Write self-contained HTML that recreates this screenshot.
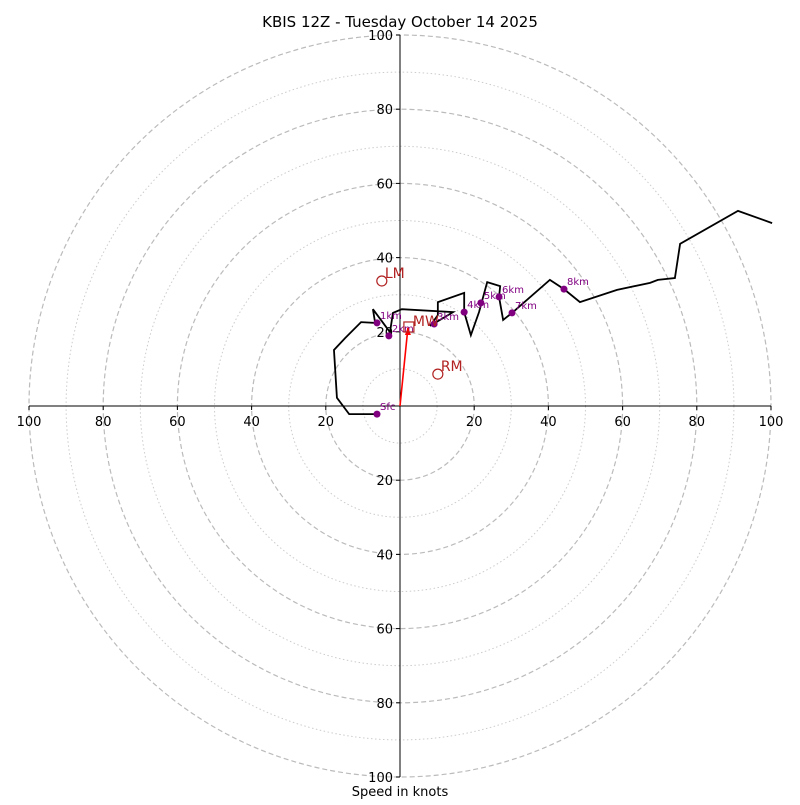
<!DOCTYPE html>
<html><head><meta charset="utf-8"><style>
body{margin:0;background:#fff}
svg text{font-family:"DejaVu Sans","Liberation Sans",sans-serif}
</style></head><body>
<svg id="c" width="800" height="800" xmlns="http://www.w3.org/2000/svg"></svg>
<script>
const windU=[-6.2,-13.7,-17.0,-17.8,-14.8,-10.5,-6.7,-7.3,-2.7,-1.9,0.5,14.3,8.1,10.2,10.2,17.3,17.3,19.1,21.3,23.5,27.0,26.7,27.8,30.2,40.4,44.2,48.5,58.5,67.4,69.5,74.1,75.5,91.1,100.3];
const windV=[-2.2,-2.2,2.2,15.1,18.3,22.6,22.4,26.1,19.9,25.1,26.1,25.3,21.6,24.5,28.0,30.5,25.3,19.1,25.3,33.4,32.3,29.4,23.2,25.1,34.0,31.5,28.0,31.3,33.2,34.0,34.5,43.7,52.6,49.3];
const heightLabels=["Sfc","1km","2km","3km","4km","5km","6km","7km","8km"];
const heightU=[-6.2,-6.2,-3.0,9.2,17.3,21.8,26.7,30.2,44.2];
const heightV=[-2.2,22.4,18.9,22.1,25.3,27.8,29.4,25.1,31.5];
const stormLabels=["LM","RM"];
const stormU=[-4.9,10.2];
const stormV=[33.7,8.6];
const meanWind=[2.4,21.3];
const ringValues=[10,20,30,40,50,60,70,80,90,100];
const tickValues=[-100,-80,-60,-40,-20,20,40,60,80,100];

const cx=400,cy=406,k=3.71;
const X=u=>cx+u*k, Y=v=>cy-v*k;
const svg=document.getElementById('c');
const NS='http://www.w3.org/2000/svg';
function mk(t,a,p){const e=document.createElementNS(NS,t);for(const q in a)e.setAttribute(q,a[q]);(p||svg).appendChild(e);return e;}
ringValues.forEach(r=>{
  const c=mk('circle',{cx:cx,cy:cy,r:r*k,fill:'none',stroke:r%20===0?'#bbbbbb':'#cccccc','stroke-width':r%20===0?1.2:1,'stroke-dasharray':r%20===0?'5,3':'1.5,2.5'});
  
  
});
let ax=mk('line',{x1:X(-100),y1:cy,x2:X(100),y2:cy,stroke:'#000'});


let ay=mk('line',{x1:cx,y1:Y(100),x2:cx,y2:Y(-100),stroke:'#000'});


tickValues.forEach(t=>{
  mk('line',{x1:X(t),y1:cy,x2:X(t),y2:cy+4,stroke:'#000'});
  const tx=mk('text',{x:X(t),y:cy+20,'font-size':13,'text-anchor':'middle'});tx.textContent=Math.abs(t);
  
  
  mk('line',{x1:cx-4,y1:Y(t),x2:cx,y2:Y(t),stroke:'#000'});
  const ty=mk('text',{x:cx-7,y:Y(t)+5,'font-size':13,'text-anchor':'end'});ty.textContent=Math.abs(t);
  
  
});
let pts=windU.map((u,i)=>X(u)+','+Y(windV[i])).join(' ');
let pl=mk('polyline',{points:pts,fill:'none',stroke:'#000','stroke-width':1.8});


heightU.forEach((u,i)=>{
  const d=mk('circle',{cx:X(u),cy:Y(heightV[i]),r:3.5,fill:'#800080'});
  
  
  const t=mk('text',{x:X(u)+3,y:Y(heightV[i])-4,'font-size':10,fill:'#800080'});t.textContent=heightLabels[i];
  
  
});
stormU.forEach((u,i)=>{
  const c=mk('circle',{cx:X(u),cy:Y(stormV[i]),r:5,fill:'none',stroke:'#b22222','stroke-width':1.2});
  
  
  const t=mk('text',{x:X(u)+3,y:Y(stormV[i])-3,'font-size':14,fill:'#b22222'});t.textContent=stormLabels[i];
  
  
});
let ar=mk('line',{x1:cx,y1:cy,x2:X(meanWind[0])-1,y2:Y(meanWind[1])+1,stroke:'red','stroke-width':1.6});


mk('polygon',{points:`${X(meanWind[0])-1},${Y(meanWind[1])} ${X(meanWind[0])-4},${Y(meanWind[1])+8} ${X(meanWind[0])+2},${Y(meanWind[1])+8}`,fill:'red'});
let sq=mk('rect',{x:X(meanWind[0])-5,y:Y(meanWind[1])-5,width:10,height:10,fill:'none',stroke:'#b22222','stroke-width':1.2});


let mw=mk('text',{x:X(meanWind[0])+4,y:Y(meanWind[1])-1,'font-size':14,fill:'#b22222'});mw.textContent='MW';


let ti=mk('text',{x:400,y:27,'font-size':15,'text-anchor':'middle'});ti.textContent='KBIS 12Z - Tuesday October 14 2025';


let xl=mk('text',{x:400,y:796,'font-size':13,'text-anchor':'middle'});xl.textContent='Speed in knots';


</script>
</body></html>
